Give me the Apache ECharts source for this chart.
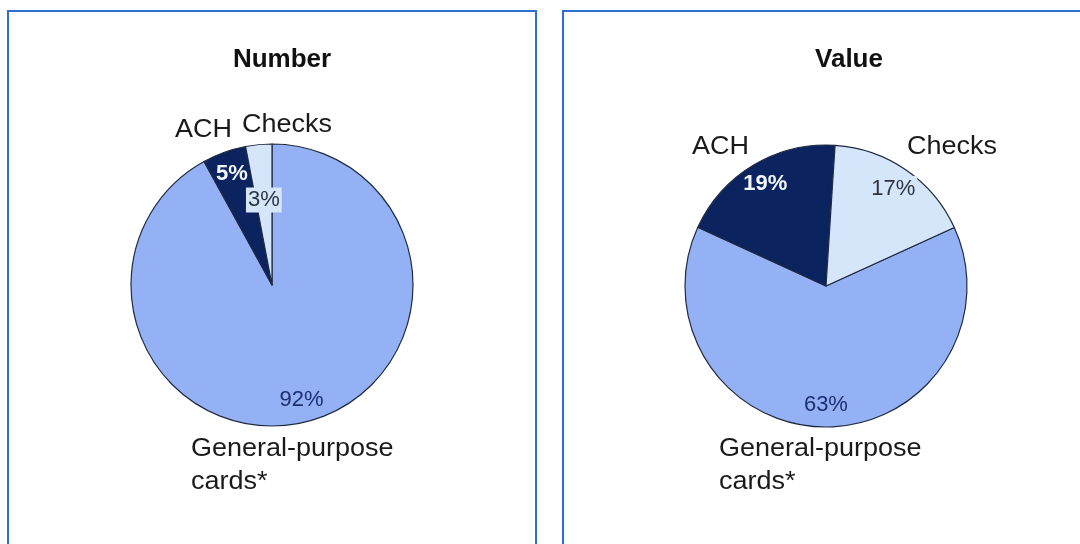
<!DOCTYPE html>
<html>
<head>
<meta charset="utf-8">
<script src="https://cdn.jsdelivr.net/npm/echarts@6/dist/echarts.min.js"></script>
<style>
  html, body { margin: 0; padding: 0; background: #ffffff; }
  #chart { width: 1080px; height: 544px; }
</style>
</head>
<body>
<div id="chart"></div>
<script>
// ---- data ----
const categories = ['General-purpose\ncards*', 'ACH', 'Checks'];
const numberShares = [92, 5, 3];
const valueShares = [63, 19, 17];
const panelTitles = ['Number', 'Value'];

// ---- styles / layout ----
const FONT = '"Liberation Sans", Arial, Helvetica, sans-serif';
const sliceColors = ['#93b1f4', '#0b2460', '#d5e5fa'];
const pctStyles = [
  { color: '#1c2f6e', fontWeight: 'normal' },
  { color: '#f2f6ff', fontWeight: 'bold' },
  { color: '#2b3340', fontWeight: 'normal', backgroundColor: '#d5e5fa', padding: [2, 2, 1, 2] }
];
const panels = [
  { shares: numberShares, center: [272, 285], startAngle: 90, titleX: 282,
    box: { x: 8, y: 11, width: 528, height: 600 },
    catPos: [[191, 433], [175, 130], [242, 125]],
    labelShift: { 2: [3, 33] } },
  { shares: valueShares, center: [826, 286], startAngle: 24.5, titleX: 849,
    box: { x: 563, y: 11, width: 540, height: 600 },
    catPos: [[719, 433], [692, 147], [907, 147]],
    labelShift: {} }
];
const R = 141;

const series = [];
const graphic = [];
panels.forEach((p, pi) => {
  const data = categories.map((c, i) => ({
    name: c, value: p.shares[i], itemStyle: { color: sliceColors[i] }
  }));
  series.push({
    type: 'pie', center: p.center, radius: [0, R], startAngle: p.startAngle,
    clockwise: true, silent: true, animation: false,
    itemStyle: { borderColor: '#1f2a40', borderWidth: 1.2 },
    label: { show: false }, labelLine: { show: false },
    data: data
  });
  const shift = p.labelShift;
  series.push({
    type: 'pie', center: p.center, radius: [90, R], startAngle: p.startAngle,
    clockwise: true, silent: true, animation: false, z: 5,
    avoidLabelOverlap: false,
    itemStyle: { color: 'rgba(0,0,0,0)', borderWidth: 0 },
    label: { show: true, position: 'inside', fontFamily: FONT, fontSize: 22,
      formatter: (prm) => prm.value + '%' },
    labelLine: { show: false },
    labelLayout: (prm) => {
      const s = shift[prm.dataIndex];
      return s ? { dx: s[0], dy: s[1] } : {};
    },
    data: categories.map((c, i) => ({
      name: c, value: p.shares[i],
      label: Object.assign({}, pctStyles[i])
    }))
  });
  graphic.push({
    type: 'rect', silent: true,
    shape: p.box,
    style: { fill: 'none', stroke: '#2f6fd2', lineWidth: 2 }
  });
  categories.forEach((c, i) => {
    const multi = c.indexOf('\n') >= 0;
    graphic.push({
      type: 'text', silent: true,
      x: p.catPos[i][0], y: p.catPos[i][1], scaleX: 1.08,
      style: {
        text: c, fill: '#1a1a1a',
        fontSize: 25, fontFamily: FONT,
        lineHeight: 33,
        align: 'left', verticalAlign: multi ? 'top' : 'middle'
      }
    });
  });
});

const chart = echarts.init(document.getElementById('chart'), null, { renderer: 'canvas' });
chart.setOption({
  backgroundColor: '#ffffff',
  animation: false,
  title: panels.map((p, pi) => ({
    text: panelTitles[pi], left: p.titleX, top: 47, textAlign: 'center', padding: 0,
    textStyle: { fontFamily: FONT, fontSize: 26, fontWeight: 'bold', color: '#111111' }
  })),
  series: series,
  graphic: graphic
});
</script>
</body>
</html>
